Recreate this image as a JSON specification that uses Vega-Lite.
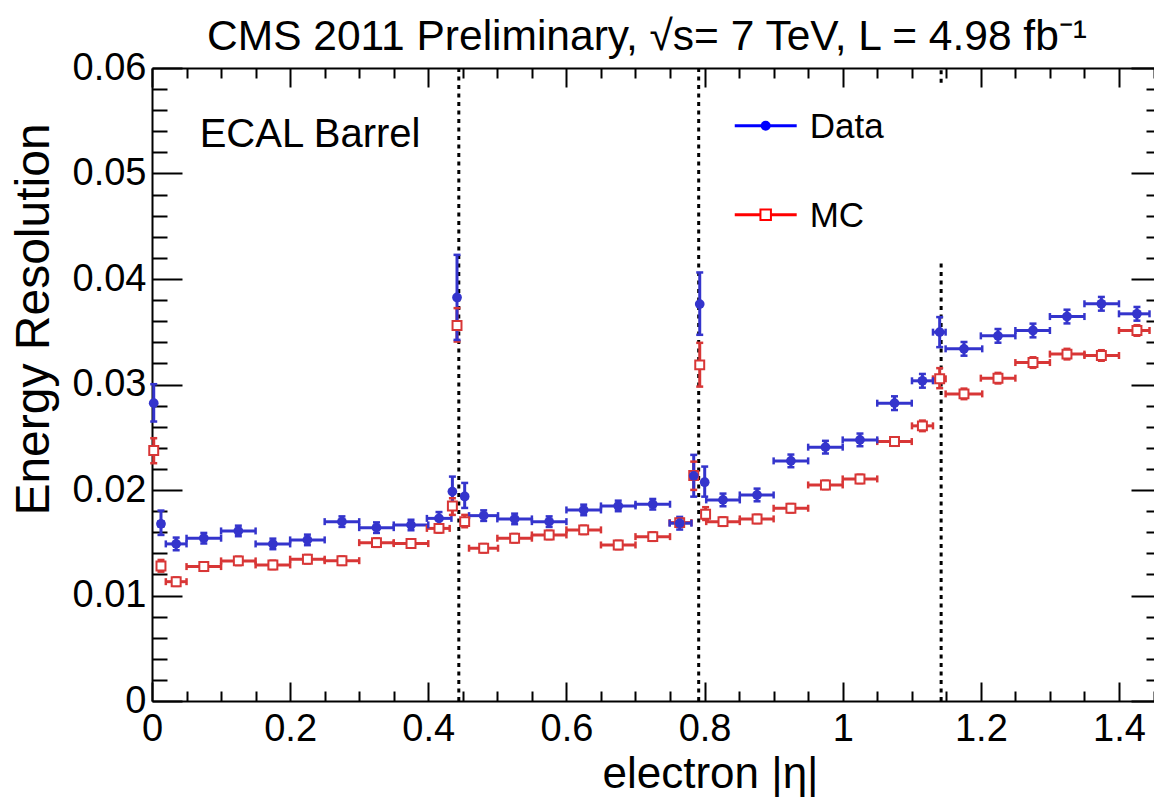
{
  "$schema": "https://vega.github.io/schema/vega-lite/v6.json",
  "width": 1002,
  "height": 633,
  "autosize": {"type": "none"},
  "padding": {"left": 152, "top": 68, "right": 0, "bottom": 96},
  "background": "white",
  "config": {
    "view": {"stroke": null},
    "axis": {"grid": false, "domainColor": "#000", "tickColor": "#000", "labelColor": "#000", "titleColor": "#000", "labelFont": "Liberation Sans", "titleFont": "Liberation Sans", "titleFontWeight": "normal", "domainWidth": 2, "tickWidth": 2, "labelFontSize": 38},
    "text": {"font": "Liberation Sans"}
  },
  "title": {"text": "CMS 2011 Preliminary, √s= 7 TeV, L = 4.98 fb⁻¹", "font": "Liberation Sans", "fontSize": 42.5, "fontWeight": "normal", "color": "#000", "anchor": "middle", "frame": "group", "baseline": "alphabetic", "offset": 0, "dx": -6, "dy": 43},
  "datasets": {
    "cracks": [
      {"eta": 0.4442, "y0": 0, "y1": 0.06},
      {"eta": 0.7915, "y0": 0, "y1": 0.06},
      {"eta": 1.1425, "y0": 0, "y1": 0.0418},
      {"eta": 1.1425, "y0": 0.0586, "y1": 0.06}
    ],
    "pts": [
      {"s": "MC", "eta": 0.0025, "lo": 0, "hi": 0.005, "v": 0.02374, "vlo": 0.02254, "vhi": 0.02491},
      {"s": "MC", "eta": 0.013, "lo": 0.009, "hi": 0.017, "v": 0.0128, "vlo": 0.01226, "vhi": 0.01337},
      {"s": "MC", "eta": 0.035, "lo": 0.02, "hi": 0.05, "v": 0.01131, "vlo": 0.01091, "vhi": 0.01171},
      {"s": "MC", "eta": 0.075, "lo": 0.05, "hi": 0.1, "v": 0.01274, "vlo": 0.01234, "vhi": 0.01314},
      {"s": "MC", "eta": 0.125, "lo": 0.1, "hi": 0.15, "v": 0.01328, "vlo": 0.01288, "vhi": 0.01368},
      {"s": "MC", "eta": 0.175, "lo": 0.15, "hi": 0.2, "v": 0.0129, "vlo": 0.0125, "vhi": 0.0133},
      {"s": "MC", "eta": 0.225, "lo": 0.2, "hi": 0.25, "v": 0.01344, "vlo": 0.01304, "vhi": 0.01384},
      {"s": "MC", "eta": 0.275, "lo": 0.25, "hi": 0.3, "v": 0.0133, "vlo": 0.0129, "vhi": 0.0137},
      {"s": "MC", "eta": 0.325, "lo": 0.3, "hi": 0.35, "v": 0.01501, "vlo": 0.01461, "vhi": 0.01541},
      {"s": "MC", "eta": 0.375, "lo": 0.35, "hi": 0.4, "v": 0.01492, "vlo": 0.01452, "vhi": 0.01532},
      {"s": "MC", "eta": 0.4155, "lo": 0.398, "hi": 0.431, "v": 0.01636, "vlo": 0.01596, "vhi": 0.01676},
      {"s": "MC", "eta": 0.4349, "lo": 0.4335, "hi": 0.4365, "v": 0.01849, "vlo": 0.01764, "vhi": 0.01922},
      {"s": "MC", "eta": 0.4416, "lo": 0.44, "hi": 0.4435, "v": 0.03559, "vlo": 0.03407, "vhi": 0.03724},
      {"s": "MC", "eta": 0.4527, "lo": 0.449, "hi": 0.456, "v": 0.017, "vlo": 0.01647, "vhi": 0.01764},
      {"s": "MC", "eta": 0.4802, "lo": 0.459, "hi": 0.501, "v": 0.01448, "vlo": 0.01408, "vhi": 0.01488},
      {"s": "MC", "eta": 0.525, "lo": 0.5, "hi": 0.55, "v": 0.01543, "vlo": 0.01503, "vhi": 0.01583},
      {"s": "MC", "eta": 0.575, "lo": 0.55, "hi": 0.6, "v": 0.01574, "vlo": 0.01534, "vhi": 0.01614},
      {"s": "MC", "eta": 0.625, "lo": 0.6, "hi": 0.65, "v": 0.01622, "vlo": 0.01582, "vhi": 0.01662},
      {"s": "MC", "eta": 0.675, "lo": 0.65, "hi": 0.7, "v": 0.01479, "vlo": 0.01439, "vhi": 0.01519},
      {"s": "MC", "eta": 0.725, "lo": 0.7, "hi": 0.75, "v": 0.01558, "vlo": 0.01518, "vhi": 0.01598},
      {"s": "MC", "eta": 0.764, "lo": 0.7495, "hi": 0.781, "v": 0.01691, "vlo": 0.01651, "vhi": 0.01731},
      {"s": "MC", "eta": 0.7843, "lo": 0.781, "hi": 0.788, "v": 0.02137, "vlo": 0.02001, "vhi": 0.02269},
      {"s": "MC", "eta": 0.793, "lo": 0.791, "hi": 0.795, "v": 0.03186, "vlo": 0.0298, "vhi": 0.03395},
      {"s": "MC", "eta": 0.8015, "lo": 0.7985, "hi": 0.8043, "v": 0.01771, "vlo": 0.01716, "vhi": 0.01837},
      {"s": "MC", "eta": 0.8267, "lo": 0.8024, "hi": 0.851, "v": 0.017, "vlo": 0.0166, "vhi": 0.0174},
      {"s": "MC", "eta": 0.876, "lo": 0.851, "hi": 0.9, "v": 0.01726, "vlo": 0.01686, "vhi": 0.01766},
      {"s": "MC", "eta": 0.925, "lo": 0.9, "hi": 0.95, "v": 0.01827, "vlo": 0.01787, "vhi": 0.01867},
      {"s": "MC", "eta": 0.975, "lo": 0.95, "hi": 1.0, "v": 0.02048, "vlo": 0.02008, "vhi": 0.02088},
      {"s": "MC", "eta": 1.025, "lo": 1.0, "hi": 1.05, "v": 0.02105, "vlo": 0.02065, "vhi": 0.02145},
      {"s": "MC", "eta": 1.075, "lo": 1.05, "hi": 1.1, "v": 0.02459, "vlo": 0.02419, "vhi": 0.02499},
      {"s": "MC", "eta": 1.1154, "lo": 1.1003, "hi": 1.1307, "v": 0.02608, "vlo": 0.02558, "vhi": 0.02658},
      {"s": "MC", "eta": 1.1404, "lo": 1.1307, "hi": 1.149, "v": 0.03054, "vlo": 0.02965, "vhi": 0.03155},
      {"s": "MC", "eta": 1.1756, "lo": 1.149, "hi": 1.202, "v": 0.02911, "vlo": 0.02861, "vhi": 0.02961},
      {"s": "MC", "eta": 1.2248, "lo": 1.2, "hi": 1.25, "v": 0.0306, "vlo": 0.0301, "vhi": 0.0311},
      {"s": "MC", "eta": 1.2755, "lo": 1.25, "hi": 1.3, "v": 0.03208, "vlo": 0.03158, "vhi": 0.03258},
      {"s": "MC", "eta": 1.3247, "lo": 1.3, "hi": 1.35, "v": 0.03288, "vlo": 0.03238, "vhi": 0.03338},
      {"s": "MC", "eta": 1.3745, "lo": 1.35, "hi": 1.4, "v": 0.03275, "vlo": 0.03225, "vhi": 0.03325},
      {"s": "MC", "eta": 1.426, "lo": 1.4, "hi": 1.4442, "v": 0.03512, "vlo": 0.03462, "vhi": 0.03562},
      {"s": "Data", "eta": 0.0025, "lo": 0, "hi": 0.005, "v": 0.02823, "vlo": 0.02649, "vhi": 0.03003},
      {"s": "Data", "eta": 0.013, "lo": 0.009, "hi": 0.017, "v": 0.01679, "vlo": 0.01574, "vhi": 0.01805},
      {"s": "Data", "eta": 0.035, "lo": 0.02, "hi": 0.05, "v": 0.01489, "vlo": 0.01429, "vhi": 0.01549},
      {"s": "Data", "eta": 0.075, "lo": 0.05, "hi": 0.1, "v": 0.01543, "vlo": 0.01493, "vhi": 0.01593},
      {"s": "Data", "eta": 0.125, "lo": 0.1, "hi": 0.15, "v": 0.01612, "vlo": 0.01562, "vhi": 0.01662},
      {"s": "Data", "eta": 0.175, "lo": 0.15, "hi": 0.2, "v": 0.01489, "vlo": 0.01439, "vhi": 0.01539},
      {"s": "Data", "eta": 0.225, "lo": 0.2, "hi": 0.25, "v": 0.01527, "vlo": 0.01477, "vhi": 0.01577},
      {"s": "Data", "eta": 0.275, "lo": 0.25, "hi": 0.3, "v": 0.017, "vlo": 0.0165, "vhi": 0.0175},
      {"s": "Data", "eta": 0.325, "lo": 0.3, "hi": 0.35, "v": 0.01643, "vlo": 0.01593, "vhi": 0.01693},
      {"s": "Data", "eta": 0.375, "lo": 0.35, "hi": 0.4, "v": 0.01669, "vlo": 0.01619, "vhi": 0.01719},
      {"s": "Data", "eta": 0.4155, "lo": 0.398, "hi": 0.4335, "v": 0.01731, "vlo": 0.01671, "vhi": 0.01791},
      {"s": "Data", "eta": 0.4349, "lo": 0.4335, "hi": 0.4365, "v": 0.01985, "vlo": 0.01843, "vhi": 0.02127},
      {"s": "Data", "eta": 0.4416, "lo": 0.44, "hi": 0.4435, "v": 0.03825, "vlo": 0.03423, "vhi": 0.04229},
      {"s": "Data", "eta": 0.4527, "lo": 0.449, "hi": 0.456, "v": 0.01939, "vlo": 0.0183, "vhi": 0.02067},
      {"s": "Data", "eta": 0.4802, "lo": 0.459, "hi": 0.501, "v": 0.01757, "vlo": 0.01707, "vhi": 0.01807},
      {"s": "Data", "eta": 0.525, "lo": 0.5, "hi": 0.55, "v": 0.01726, "vlo": 0.01676, "vhi": 0.01776},
      {"s": "Data", "eta": 0.575, "lo": 0.55, "hi": 0.6, "v": 0.017, "vlo": 0.0165, "vhi": 0.0175},
      {"s": "Data", "eta": 0.625, "lo": 0.6, "hi": 0.65, "v": 0.01811, "vlo": 0.01761, "vhi": 0.01861},
      {"s": "Data", "eta": 0.675, "lo": 0.65, "hi": 0.7, "v": 0.01849, "vlo": 0.01799, "vhi": 0.01899},
      {"s": "Data", "eta": 0.725, "lo": 0.7, "hi": 0.75, "v": 0.01865, "vlo": 0.01815, "vhi": 0.01915},
      {"s": "Data", "eta": 0.764, "lo": 0.7495, "hi": 0.781, "v": 0.01685, "vlo": 0.01625, "vhi": 0.01745},
      {"s": "Data", "eta": 0.7843, "lo": 0.781, "hi": 0.788, "v": 0.02134, "vlo": 0.01937, "vhi": 0.02333},
      {"s": "Data", "eta": 0.793, "lo": 0.791, "hi": 0.795, "v": 0.03762, "vlo": 0.03471, "vhi": 0.04062},
      {"s": "Data", "eta": 0.8002, "lo": 0.797, "hi": 0.8024, "v": 0.02074, "vlo": 0.01937, "vhi": 0.02222},
      {"s": "Data", "eta": 0.8267, "lo": 0.8024, "hi": 0.851, "v": 0.01906, "vlo": 0.01846, "vhi": 0.01966},
      {"s": "Data", "eta": 0.876, "lo": 0.851, "hi": 0.9, "v": 0.01953, "vlo": 0.01893, "vhi": 0.02013},
      {"s": "Data", "eta": 0.925, "lo": 0.9, "hi": 0.95, "v": 0.02276, "vlo": 0.02216, "vhi": 0.02336},
      {"s": "Data", "eta": 0.975, "lo": 0.95, "hi": 1.0, "v": 0.02406, "vlo": 0.02346, "vhi": 0.02466},
      {"s": "Data", "eta": 1.025, "lo": 1.0, "hi": 1.05, "v": 0.02475, "vlo": 0.02415, "vhi": 0.02535},
      {"s": "Data", "eta": 1.075, "lo": 1.05, "hi": 1.1, "v": 0.02823, "vlo": 0.02758, "vhi": 0.02888},
      {"s": "Data", "eta": 1.1154, "lo": 1.1003, "hi": 1.1307, "v": 0.03035, "vlo": 0.0297, "vhi": 0.031},
      {"s": "Data", "eta": 1.1404, "lo": 1.1307, "hi": 1.149, "v": 0.03496, "vlo": 0.03354, "vhi": 0.03639},
      {"s": "Data", "eta": 1.1756, "lo": 1.149, "hi": 1.202, "v": 0.03338, "vlo": 0.03273, "vhi": 0.03403},
      {"s": "Data", "eta": 1.2248, "lo": 1.2, "hi": 1.25, "v": 0.03461, "vlo": 0.03396, "vhi": 0.03526},
      {"s": "Data", "eta": 1.2755, "lo": 1.25, "hi": 1.3, "v": 0.03512, "vlo": 0.03447, "vhi": 0.03577},
      {"s": "Data", "eta": 1.3247, "lo": 1.3, "hi": 1.35, "v": 0.03644, "vlo": 0.03579, "vhi": 0.03709},
      {"s": "Data", "eta": 1.3745, "lo": 1.35, "hi": 1.4, "v": 0.03765, "vlo": 0.037, "vhi": 0.0383},
      {"s": "Data", "eta": 1.426, "lo": 1.4, "hi": 1.4442, "v": 0.0367, "vlo": 0.03605, "vhi": 0.03735}
    ]
  },
  "resolve": {"axis": {"x": "independent", "y": "independent"}},
  "layer": [
    {
      "data": {"name": "cracks"},
      "mark": {"type": "rule", "color": "#000", "strokeWidth": 3, "strokeDash": [4, 4.5]},
      "encoding": {
        "x": {"field": "eta", "type": "quantitative", "scale": {"domain": [0, 1.4507], "nice": false, "zero": false},
          "axis": {"orient": "bottom", "values": [0, 0.2, 0.4, 0.6, 0.8, 1, 1.2, 1.4], "format": ".1~f", "tickSize": -19, "labelPadding": 28, "labelFlush": false, "labelOverlap": false, "title": "electron |η|", "titleFont": "Liberation Sans", "titleFontSize": 44, "titleX": 558, "titleY": 86, "titleAlign": "center", "titleBaseline": "alphabetic"}},
        "y": {"field": "y0", "type": "quantitative", "scale": {"domain": [0, 0.06], "nice": false, "zero": false},
          "axis": {"orient": "left", "values": [0, 0.01, 0.02, 0.03, 0.04, 0.05, 0.06], "format": ".2~f", "tickSize": -30, "labelPadding": 36, "labelFlush": false, "labelOverlap": false, "title": "Energy Resolution", "titleFontSize": 48, "titleX": -104, "titleY": 251, "titleAngle": -90, "titleAlign": "center", "titleBaseline": "alphabetic"}},
        "y2": {"field": "y1"}
      }
    },
    {
      "data": {"name": "pts"},
      "mark": {"type": "rule", "strokeWidth": 3, "opacity": 1},
      "encoding": {
        "x": {"field": "lo", "type": "quantitative", "scale": {"domain": [0, 1.4507], "nice": false, "zero": false},
          "axis": {"orient": "bottom", "values": [0.05, 0.1, 0.15, 0.25, 0.3, 0.35, 0.45, 0.5, 0.55, 0.65, 0.7, 0.75, 0.85, 0.9, 0.95, 1.05, 1.1, 1.15, 1.25, 1.3, 1.35, 1.45], "tickSize": -10, "labels": false, "domain": false, "title": null}},
        "x2": {"field": "hi"},
        "y": {"field": "v", "type": "quantitative", "scale": {"domain": [0, 0.06], "nice": false, "zero": false},
          "axis": {"orient": "left", "values": [0.002, 0.004, 0.006, 0.008, 0.012, 0.014, 0.016, 0.018, 0.022, 0.024, 0.026, 0.028, 0.032, 0.034, 0.036, 0.038, 0.042, 0.044, 0.046, 0.048, 0.052, 0.054, 0.056, 0.058], "tickSize": -15, "labels": false, "domain": false, "title": null}},
        "color": {"field": "s", "type": "nominal", "scale": {"domain": ["Data", "MC"], "range": ["#3434cc", "#d83636"]}, "legend": null}
      }
    },
    {
      "data": {"name": "pts"},
      "mark": {"type": "rule", "strokeWidth": 3, "opacity": 1},
      "encoding": {
        "x": {"field": "eta", "type": "quantitative", "scale": {"domain": [0, 1.4507], "nice": false, "zero": false},
          "axis": {"orient": "top", "values": [0, 0.2, 0.4, 0.6, 0.8, 1, 1.2, 1.4], "tickSize": -19, "labels": false, "domain": true, "title": null}},
        "y": {"field": "vlo", "type": "quantitative", "scale": {"domain": [0, 0.06], "nice": false, "zero": false},
          "axis": {"orient": "right", "offset": 7, "values": [0, 0.01, 0.02, 0.03, 0.04, 0.05, 0.06], "tickSize": -30, "labels": false, "domain": true, "title": null}},
        "y2": {"field": "vhi"},
        "color": {"field": "s", "type": "nominal", "scale": {"domain": ["Data", "MC"], "range": ["#3434cc", "#d83636"]}, "legend": null}
      }
    },
    {
      "data": {"name": "pts"},
      "mark": {"type": "tick", "orient": "vertical", "size": 7, "thickness": 2.5, "opacity": 1},
      "encoding": {
        "x": {"field": "lo", "type": "quantitative", "scale": {"domain": [0, 1.4507], "nice": false, "zero": false},
          "axis": {"orient": "top", "values": [0.05, 0.1, 0.15, 0.25, 0.3, 0.35, 0.45, 0.5, 0.55, 0.65, 0.7, 0.75, 0.85, 0.9, 0.95, 1.05, 1.1, 1.15, 1.25, 1.3, 1.35, 1.45], "tickSize": -10, "labels": false, "domain": false, "title": null}},
        "y": {"field": "v", "type": "quantitative", "scale": {"domain": [0, 0.06], "nice": false, "zero": false},
          "axis": {"orient": "right", "offset": 7, "values": [0.002, 0.004, 0.006, 0.008, 0.012, 0.014, 0.016, 0.018, 0.022, 0.024, 0.026, 0.028, 0.032, 0.034, 0.036, 0.038, 0.042, 0.044, 0.046, 0.048, 0.052, 0.054, 0.056, 0.058], "tickSize": -15, "labels": false, "domain": false, "title": null}},
        "color": {"field": "s", "type": "nominal", "scale": {"domain": ["Data", "MC"], "range": ["#3434cc", "#d83636"]}, "legend": null}
      }
    },
    {
      "data": {"name": "pts"},
      "mark": {"type": "tick", "orient": "vertical", "size": 7, "thickness": 2.5, "opacity": 1},
      "encoding": {
        "x": {"field": "hi", "type": "quantitative", "scale": {"domain": [0, 1.4507], "nice": false, "zero": false}, "axis": null},
        "y": {"field": "v", "type": "quantitative", "scale": {"domain": [0, 0.06], "nice": false, "zero": false}, "axis": null},
        "color": {"field": "s", "type": "nominal", "scale": {"domain": ["Data", "MC"], "range": ["#3434cc", "#d83636"]}, "legend": null}
      }
    },
    {
      "data": {"name": "pts"},
      "mark": {"type": "tick", "orient": "horizontal", "size": 7, "thickness": 2.5, "opacity": 1},
      "encoding": {
        "x": {"field": "eta", "type": "quantitative", "scale": {"domain": [0, 1.4507], "nice": false, "zero": false}, "axis": null},
        "y": {"field": "vlo", "type": "quantitative", "scale": {"domain": [0, 0.06], "nice": false, "zero": false}, "axis": null},
        "color": {"field": "s", "type": "nominal", "scale": {"domain": ["Data", "MC"], "range": ["#3434cc", "#d83636"]}, "legend": null}
      }
    },
    {
      "data": {"name": "pts"},
      "mark": {"type": "tick", "orient": "horizontal", "size": 7, "thickness": 2.5, "opacity": 1},
      "encoding": {
        "x": {"field": "eta", "type": "quantitative", "scale": {"domain": [0, 1.4507], "nice": false, "zero": false}, "axis": null},
        "y": {"field": "vhi", "type": "quantitative", "scale": {"domain": [0, 0.06], "nice": false, "zero": false}, "axis": null},
        "color": {"field": "s", "type": "nominal", "scale": {"domain": ["Data", "MC"], "range": ["#3434cc", "#d83636"]}, "legend": null}
      }
    },
    {
      "data": {"name": "pts"},
      "transform": [{"filter": "datum.s === 'MC'"}],
      "mark": {"type": "point", "shape": "square", "size": 80, "fill": "#ffffff", "stroke": "#d83636", "strokeWidth": 2, "opacity": 1, "fillOpacity": 1},
      "encoding": {
        "x": {"field": "eta", "type": "quantitative", "scale": {"domain": [0, 1.4507], "nice": false, "zero": false}, "axis": null},
        "y": {"field": "v", "type": "quantitative", "scale": {"domain": [0, 0.06], "nice": false, "zero": false}, "axis": null}
      }
    },
    {
      "data": {"name": "pts"},
      "transform": [{"filter": "datum.s === 'Data'"}],
      "mark": {"type": "point", "shape": "circle", "size": 95, "filled": true, "color": "#3434cc", "opacity": 1},
      "encoding": {
        "x": {"field": "eta", "type": "quantitative", "scale": {"domain": [0, 1.4507], "nice": false, "zero": false}, "axis": null},
        "y": {"field": "v", "type": "quantitative", "scale": {"domain": [0, 0.06], "nice": false, "zero": false}, "axis": null}
      }
    },
    {
      "data": {"values": [{"label": "ECAL Barrel"}]},
      "mark": {"type": "text", "align": "left", "baseline": "alphabetic", "fontSize": 40, "font": "Liberation Sans", "color": "#000"},
      "encoding": {
        "text": {"field": "label"},
        "x": {"datum": 0.069, "type": "quantitative", "scale": {"domain": [0, 1.4507], "nice": false, "zero": false}, "axis": null},
        "y": {"datum": 0.05254, "type": "quantitative", "scale": {"domain": [0, 0.06], "nice": false, "zero": false}, "axis": null}
      }
    },
    {
      "data": {"values": [{"label": "Data"}]},
      "layer": [
        {
          "mark": {"type": "rule", "color": "#0000ff", "strokeWidth": 3},
          "encoding": {
            "x": {"datum": 0.8437, "type": "quantitative", "scale": {"domain": [0, 1.4507], "nice": false, "zero": false}, "axis": null},
            "x2": {"datum": 0.9334},
            "y": {"datum": 0.05453, "type": "quantitative", "scale": {"domain": [0, 0.06], "nice": false, "zero": false}, "axis": null}
          }
        },
        {
          "mark": {"type": "point", "shape": "circle", "size": 100, "filled": true, "color": "#0000ff", "opacity": 1},
          "encoding": {
            "x": {"datum": 0.8885, "type": "quantitative", "scale": {"domain": [0, 1.4507], "nice": false, "zero": false}, "axis": null},
            "y": {"datum": 0.05453, "type": "quantitative", "scale": {"domain": [0, 0.06], "nice": false, "zero": false}, "axis": null}
          }
        },
        {
          "mark": {"type": "text", "align": "left", "baseline": "middle", "dy": 1, "fontSize": 35, "font": "Liberation Sans", "color": "#000"},
          "encoding": {
            "text": {"field": "label"},
            "x": {"datum": 0.9522, "type": "quantitative", "scale": {"domain": [0, 1.4507], "nice": false, "zero": false}, "axis": null},
            "y": {"datum": 0.05453, "type": "quantitative", "scale": {"domain": [0, 0.06], "nice": false, "zero": false}, "axis": null}
          }
        }
      ]
    },
    {
      "data": {"values": [{"label": "MC"}]},
      "layer": [
        {
          "mark": {"type": "rule", "color": "#ff0000", "strokeWidth": 3},
          "encoding": {
            "x": {"datum": 0.8437, "type": "quantitative", "scale": {"domain": [0, 1.4507], "nice": false, "zero": false}, "axis": null},
            "x2": {"datum": 0.9334},
            "y": {"datum": 0.04609, "type": "quantitative", "scale": {"domain": [0, 0.06], "nice": false, "zero": false}, "axis": null}
          }
        },
        {
          "mark": {"type": "point", "shape": "square", "size": 110, "fill": "#ffffff", "stroke": "#ff0000", "strokeWidth": 2, "opacity": 1, "fillOpacity": 1},
          "encoding": {
            "x": {"datum": 0.8885, "type": "quantitative", "scale": {"domain": [0, 1.4507], "nice": false, "zero": false}, "axis": null},
            "y": {"datum": 0.04609, "type": "quantitative", "scale": {"domain": [0, 0.06], "nice": false, "zero": false}, "axis": null}
          }
        },
        {
          "mark": {"type": "text", "align": "left", "baseline": "middle", "dy": 1, "fontSize": 35, "font": "Liberation Sans", "color": "#000"},
          "encoding": {
            "text": {"field": "label"},
            "x": {"datum": 0.9522, "type": "quantitative", "scale": {"domain": [0, 1.4507], "nice": false, "zero": false}, "axis": null},
            "y": {"datum": 0.04609, "type": "quantitative", "scale": {"domain": [0, 0.06], "nice": false, "zero": false}, "axis": null}
          }
        }
      ]
    }
  ]
}
